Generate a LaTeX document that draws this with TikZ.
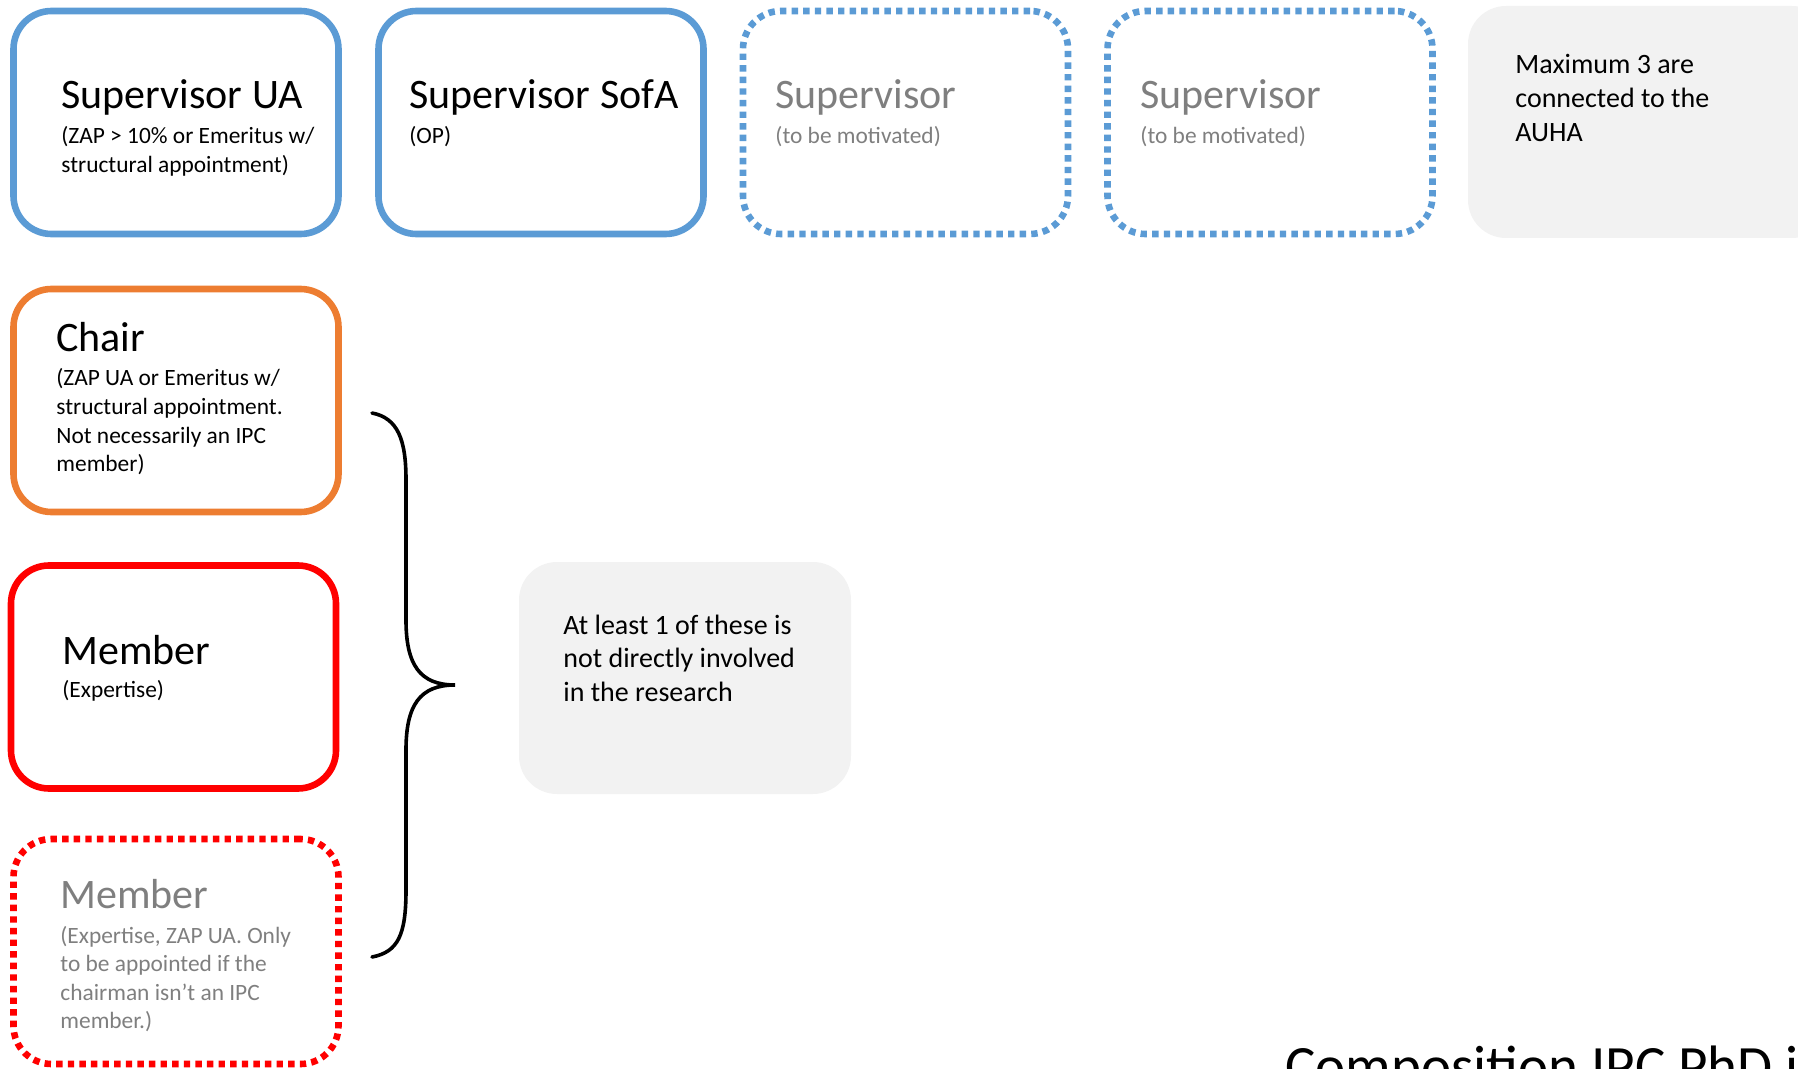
\documentclass[tikz,border=0pt]{standalone}
\usepackage{fontspec}
\setmainfont{Carlito}
\definecolor{boxblue}{HTML}{5B9BD5}
\definecolor{boxorange}{HTML}{ED7D31}
\definecolor{boxred}{HTML}{FF0000}
\definecolor{greytext}{HTML}{7F7F7F}
\definecolor{greyfill}{HTML}{F2F2F2}
\newcommand\txtlines[3]{{\fontsize{#1}{#2}\selectfont\begin{tabular}[t]{@{}l@{}}#3\end{tabular}}}
\tikzset{
  solidbox/.style={draw, line width=3.3pt, rounded corners=19pt, minimum width=162.5pt, minimum height=111.5pt, inner sep=0pt},
  dotbox/.style={solidbox, dash pattern=on 3.2pt off 2.6pt},
  greybox/.style={fill=greyfill, rounded corners=19pt, inner sep=0pt},
  titletxt/.style={anchor=base west, inner sep=0pt, font=\fontsize{21}{25}\selectfont},
  subtxt/.style={anchor=base west, inner sep=0pt},
  bracepath/.style={line width=1.8pt, line cap=round}
}
\begin{document}
\begin{tikzpicture}[x=0.5pt,y=-0.5pt]
\useasboundingbox (0,0) rectangle (1798,1069);
\clip (0,0) rectangle (1798,1069);
% top row
\node[solidbox, draw=boxblue] (supUA) at (176,122.5) {};
\node[solidbox, draw=boxblue] (supSofA) at (541,122.5) {};
\node[dotbox, draw=boxblue] (supA) at (905.5,122.5) {};
\node[dotbox, draw=boxblue] (supB) at (1270,122.5) {};
\node[greybox, minimum width=181pt, minimum height=116pt] (maxbox) at (1649,122) {};

\node[titletxt] (tUA) at (61,109) {Supervisor UA};
\node[subtxt] (sUA) at (61,143.5) {\txtlines{11.7}{14.3}{(ZAP > 10\% or Emeritus w/\\ structural appointment)}};
\node[titletxt] (tSofA) at (409,109) {Supervisor SofA};
\node[subtxt] (sSofA) at (409,143.5) {\txtlines{11.7}{14.3}{(OP)}};
\node[titletxt, text=greytext] (tA) at (775,109) {Supervisor};
\node[subtxt, text=greytext] (sA) at (775,143.5) {\txtlines{11.7}{14.3}{(to be motivated)}};
\node[titletxt, text=greytext] (tB) at (1140,109) {Supervisor};
\node[subtxt, text=greytext] (sB) at (1140,143.5) {\txtlines{11.7}{14.3}{(to be motivated)}};
\node[subtxt] (tMax) at (1515,73.5) {\txtlines{14}{16.9}{Maximum 3 are\\ connected to the\\ AUHA}};

% left column
\node[solidbox, draw=boxorange] (chair) at (176,400.5) {};
\node[titletxt] (tChair) at (56,352) {Chair};
\node[subtxt] (sChair) at (56,386) {\txtlines{11.7}{14.3}{(ZAP UA or Emeritus w/\\ structural appointment.\\ Not necessarily an IPC\\ member)}};

\node[solidbox, draw=boxred] (member) at (173.5,677) {};
\node[titletxt] (tMember) at (62,664) {Member};
\node[subtxt] (sMember) at (62,697.5) {\txtlines{11.7}{14.3}{(Expertise)}};

\node[dotbox, draw=boxred, minimum height=112.5pt] (memberOpt) at (176,951.5) {};
\node[titletxt, text=greytext] (tMemberOpt) at (60,908) {Member};
\node[subtxt, text=greytext] (sMemberOpt) at (60,943) {\txtlines{11.7}{14.3}{(Expertise, ZAP UA. Only\\ to be appointed if the\\ chairman isn’t an IPC\\ member.)}};

% brace
\coordinate (braceTop) at (372,413);
\coordinate (braceTip) at (455,685);
\coordinate (braceBot) at (372,957);
\draw[bracepath] (braceTop) .. controls (398,418) and (406,440) .. (406,480) -- (406,620)
  .. controls (406,665) and (420,685) .. (braceTip)
  .. controls (420,685) and (406,705) .. (406,750) -- (406,890)
  .. controls (406,935) and (398,952) .. (braceBot);

% note box
\node[greybox, minimum width=166pt, minimum height=116pt] (notebox) at (685,678) {};
\node[subtxt] (tNote) at (563,634) {\txtlines{14}{16.9}{At least 1 of these is\\ not directly involved\\ in the research}};

% cut-off title
\node[anchor=base west, inner sep=0pt, font=\fontsize{28.5}{34}\selectfont] (title) at (1285,1085) {Composition IPC PhD i};
\end{tikzpicture}
\end{document}
